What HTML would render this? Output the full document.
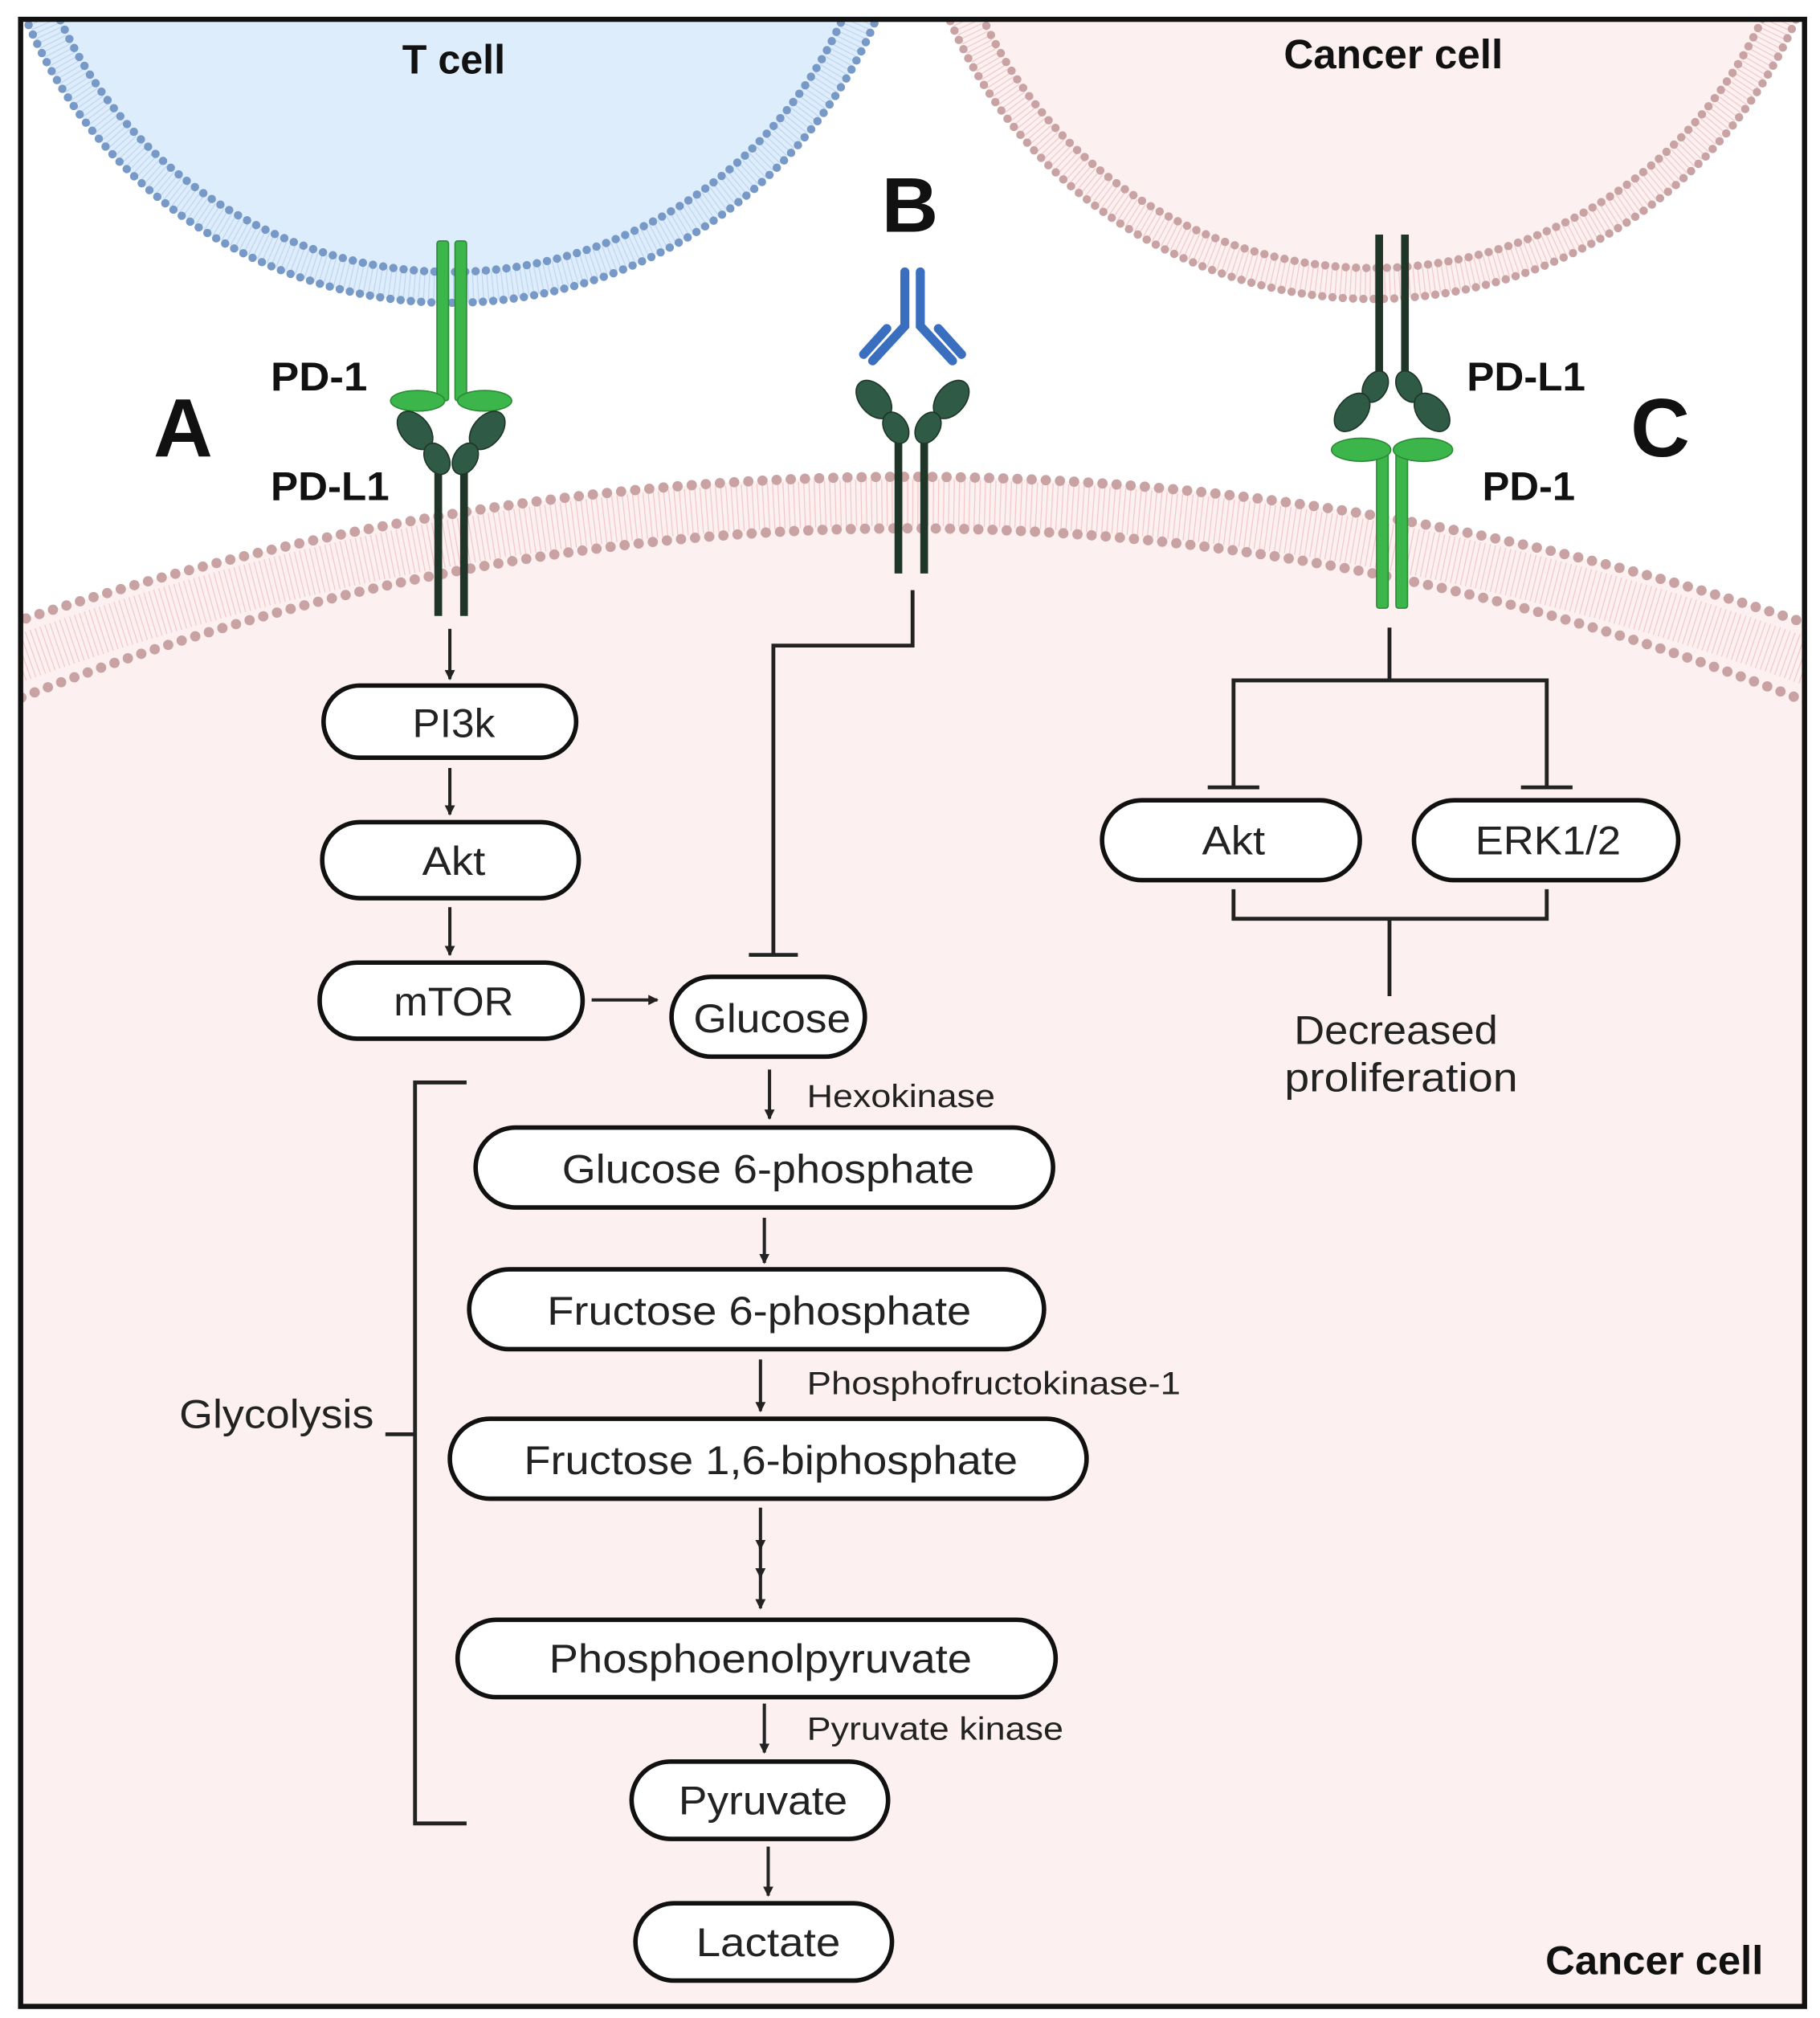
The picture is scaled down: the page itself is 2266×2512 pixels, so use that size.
<!DOCTYPE html>
<html><head><meta charset="utf-8">
<style>html,body{margin:0;padding:0;background:#fff;overflow:hidden;width:2266px;height:2512px}svg{display:block}
text{font-family:"Liberation Sans",sans-serif}</style></head>
<body>
<svg width="2266" height="2512" viewBox="0 0 1412 1566" preserveAspectRatio="none" xmlns="http://www.w3.org/2000/svg">
<defs>
<clipPath id="fr"><rect x="16" y="15" width="1384" height="1542"/></clipPath>
<marker id="ah" markerWidth="8" markerHeight="8" refX="7" refY="4" orient="auto" markerUnits="userSpaceOnUse" viewBox="0 0 8 8"><path d="M0,0 L8,4 L0,8 z" fill="#222"/></marker>
</defs>
<rect width="1412" height="1566" fill="#fff"/>
<g clip-path="url(#fr)">
<!-- big cancer cell -->
<circle cx="705" cy="2558" r="2188" fill="#fdf0f0"/>
<circle cx="705" cy="2419" r="2029" fill="none" stroke="#f3c9c9" stroke-width="36" stroke-dasharray="0.8 3.2"/>
<circle cx="705" cy="2558" r="2188" fill="none" stroke="#c9a3a3" stroke-width="8" stroke-linecap="round" stroke-dasharray="0 11"/>
<circle cx="705" cy="2280" r="1870" fill="none" stroke="#c9a3a3" stroke-width="8" stroke-linecap="round" stroke-dasharray="0 11"/>
<!-- T cell -->
<circle cx="350" cy="-122" r="357" fill="#deedfb"/>
<circle cx="350" cy="-122" r="345" fill="none" stroke="#c2d6f0" stroke-width="22" stroke-dasharray="0.8 3"/>
<circle cx="350" cy="-122" r="357" fill="none" stroke="#7799c8" stroke-width="6.5" stroke-linecap="round" stroke-dasharray="0 8"/>
<circle cx="350" cy="-122" r="333" fill="none" stroke="#7799c8" stroke-width="6.5" stroke-linecap="round" stroke-dasharray="0 8"/>
<!-- top cancer cell -->
<circle cx="1065" cy="-125" r="357" fill="#fdf0f0"/>
<circle cx="1065" cy="-125" r="345" fill="none" stroke="#f0cccc" stroke-width="22" stroke-dasharray="0.8 3"/>
<circle cx="1065" cy="-125" r="357" fill="none" stroke="#c9a3a3" stroke-width="6.5" stroke-linecap="round" stroke-dasharray="0 8"/>
<circle cx="1065" cy="-125" r="333" fill="none" stroke="#c9a3a3" stroke-width="6.5" stroke-linecap="round" stroke-dasharray="0 8"/>
</g>
<rect x="16" y="15" width="1384" height="1542" fill="none" stroke="#111" stroke-width="4"/>

<!-- A: PD-1 (green) -->
<g fill="#3cb64a" stroke="#2a8a35" stroke-width="1">
<rect x="339" y="187" width="9" height="124" rx="2"/>
<rect x="353" y="187" width="9" height="124" rx="2"/>
<ellipse cx="324" cy="311" rx="21" ry="8"/>
<ellipse cx="376" cy="311" rx="21" ry="8"/>
</g>
<!-- A: PD-L1 -->
<g stroke="#1e3527" stroke-width="6"><line x1="340" y1="365" x2="340" y2="478"/><line x1="360" y1="365" x2="360" y2="478"/></g>
<g fill="#2f5a45" stroke="#1e3527" stroke-width="1">
<ellipse cx="322" cy="334" rx="11" ry="17" transform="rotate(-40 322 334)"/>
<ellipse cx="339" cy="356" rx="9" ry="13" transform="rotate(-30 339 356)"/>
<ellipse cx="378" cy="334" rx="11" ry="17" transform="rotate(40 378 334)"/>
<ellipse cx="361" cy="356" rx="9" ry="13" transform="rotate(30 361 356)"/>
</g>

<!-- B antibody -->
<g stroke="#3a6fc0" stroke-width="7" stroke-linecap="round" fill="none">
<path d="M702,211 L702,253 L677,280"/>
<path d="M714,211 L714,253 L739,280"/>
<line x1="670" y1="275" x2="688" y2="255"/>
<line x1="746" y1="275" x2="728" y2="255"/>
</g>
<g stroke="#1e3527" stroke-width="6"><line x1="697" y1="342" x2="697" y2="445"/><line x1="717" y1="342" x2="717" y2="445"/></g>
<g fill="#2f5a45" stroke="#1e3527" stroke-width="1">
<ellipse cx="678" cy="310" rx="11" ry="17" transform="rotate(-40 678 310)"/>
<ellipse cx="695" cy="332" rx="9" ry="13" transform="rotate(-30 695 332)"/>
<ellipse cx="738" cy="310" rx="11" ry="17" transform="rotate(40 738 310)"/>
<ellipse cx="720" cy="332" rx="9" ry="13" transform="rotate(30 720 332)"/>
</g>

<!-- C -->
<g stroke="#1e3527" stroke-width="6"><line x1="1070" y1="182" x2="1070" y2="295"/><line x1="1090" y1="182" x2="1090" y2="295"/></g>
<g fill="#2f5a45" stroke="#1e3527" stroke-width="1">
<ellipse cx="1067" cy="300" rx="9" ry="13" transform="rotate(30 1067 300)"/>
<ellipse cx="1049" cy="320" rx="11" ry="17" transform="rotate(40 1049 320)"/>
<ellipse cx="1093" cy="300" rx="9" ry="13" transform="rotate(-30 1093 300)"/>
<ellipse cx="1111" cy="320" rx="11" ry="17" transform="rotate(-40 1111 320)"/>
</g>
<g fill="#3cb64a" stroke="#2a8a35" stroke-width="1">
<rect x="1068" y="345" width="9" height="127" rx="2"/>
<rect x="1083" y="345" width="9" height="127" rx="2"/>
<ellipse cx="1056" cy="349" rx="23" ry="9"/>
<ellipse cx="1104" cy="349" rx="23" ry="9"/>
</g>

<!-- bold labels -->
<g font-weight="bold" fill="#111">
<text x="312" y="57" font-size="32" textLength="80" lengthAdjust="spacingAndGlyphs">T cell</text>
<text x="996" y="53" font-size="32" textLength="170" lengthAdjust="spacingAndGlyphs">Cancer cell</text>
<text x="684" y="180" font-size="60" textLength="44" lengthAdjust="spacingAndGlyphs">B</text>
<text x="119" y="354" font-size="64" textLength="46" lengthAdjust="spacingAndGlyphs">A</text>
<text x="1265" y="354" font-size="64" textLength="46" lengthAdjust="spacingAndGlyphs">C</text>
<text x="210" y="303" font-size="31" textLength="75" lengthAdjust="spacingAndGlyphs">PD-1</text>
<text x="210" y="388" font-size="31" textLength="92" lengthAdjust="spacingAndGlyphs">PD-L1</text>
<text x="1138" y="303" font-size="31" textLength="92" lengthAdjust="spacingAndGlyphs">PD-L1</text>
<text x="1150" y="388" font-size="31" textLength="72" lengthAdjust="spacingAndGlyphs">PD-1</text>
<text x="1199" y="1532" font-size="31" textLength="169" lengthAdjust="spacingAndGlyphs">Cancer cell</text>
</g>

<!-- boxes -->
<g fill="#fff" stroke="#111" stroke-width="3.5">
<rect x="251" y="532" width="196" height="56" rx="28"/>
<rect x="250" y="638" width="199" height="59" rx="29"/>
<rect x="248" y="747" width="204" height="59" rx="29"/>
<rect x="521" y="758" width="150" height="62" rx="31"/>
<rect x="369" y="875" width="448" height="62" rx="31"/>
<rect x="364" y="985" width="446" height="62" rx="31"/>
<rect x="349" y="1101" width="494" height="62" rx="31"/>
<rect x="355" y="1257" width="464" height="60" rx="30"/>
<rect x="490" y="1367" width="199" height="60" rx="30"/>
<rect x="493" y="1477" width="199" height="60" rx="30"/>
<rect x="855" y="621" width="200" height="62" rx="31"/>
<rect x="1097" y="621" width="205" height="62" rx="31"/>
</g>
<g font-size="31" fill="#222" text-anchor="middle">
<text x="352" y="572" textLength="64" lengthAdjust="spacingAndGlyphs">PI3k</text>
<text x="352" y="679" textLength="49" lengthAdjust="spacingAndGlyphs">Akt</text>
<text x="352" y="788" textLength="93" lengthAdjust="spacingAndGlyphs">mTOR</text>
<text x="599" y="801" textLength="122" lengthAdjust="spacingAndGlyphs">Glucose</text>
<text x="596" y="918" textLength="320" lengthAdjust="spacingAndGlyphs">Glucose 6-phosphate</text>
<text x="589" y="1028" textLength="329" lengthAdjust="spacingAndGlyphs">Fructose 6-phosphate</text>
<text x="598" y="1144" textLength="383" lengthAdjust="spacingAndGlyphs">Fructose 1,6-biphosphate</text>
<text x="590" y="1298" textLength="328" lengthAdjust="spacingAndGlyphs">Phosphoenolpyruvate</text>
<text x="592" y="1408" textLength="131" lengthAdjust="spacingAndGlyphs">Pyruvate</text>
<text x="596" y="1518" textLength="112" lengthAdjust="spacingAndGlyphs">Lactate</text>
<text x="957" y="663" textLength="49" lengthAdjust="spacingAndGlyphs">Akt</text>
<text x="1201" y="663" textLength="113" lengthAdjust="spacingAndGlyphs">ERK1/2</text>
<text x="1083" y="810" textLength="158" lengthAdjust="spacingAndGlyphs">Decreased</text>
<text x="1087" y="847" textLength="181" lengthAdjust="spacingAndGlyphs">proliferation</text>
</g>
<g font-size="31" fill="#222">
<text x="139" y="1108" textLength="151" lengthAdjust="spacingAndGlyphs">Glycolysis</text>
</g>
<g font-size="25" fill="#222">
<text x="626" y="859" textLength="146" lengthAdjust="spacingAndGlyphs">Hexokinase</text>
<text x="626" y="1082" textLength="290" lengthAdjust="spacingAndGlyphs">Phosphofructokinase-1</text>
<text x="626" y="1350" textLength="199" lengthAdjust="spacingAndGlyphs">Pyruvate kinase</text>
</g>

<!-- arrows -->
<g stroke="#222" stroke-width="2.5" fill="none" marker-end="url(#ah)">
<line x1="349" y1="488" x2="349" y2="527"/>
<line x1="349" y1="596" x2="349" y2="632"/>
<line x1="349" y1="704" x2="349" y2="741"/>
<line x1="459" y1="776" x2="510" y2="776"/>
<line x1="597" y1="830" x2="597" y2="868"/>
<line x1="593" y1="945" x2="593" y2="980"/>
<line x1="590" y1="1055" x2="590" y2="1095"/>
<line x1="590" y1="1170" x2="590" y2="1202"/>
<line x1="590" y1="1200" x2="590" y2="1224"/>
<line x1="590" y1="1222" x2="590" y2="1248"/>
<line x1="593" y1="1322" x2="593" y2="1360"/>
<line x1="596" y1="1433" x2="596" y2="1471"/>
</g>
<!-- inhibitors & brackets -->
<g stroke="#222" stroke-width="3" fill="none">
<path d="M708,458 L708,501 L600,501 L600,740"/>
<line x1="581" y1="741" x2="619" y2="741"/>
<path d="M1078,487 L1078,528"/>
<path d="M957,610 L957,528 L1200,528 L1200,610"/>
<line x1="937" y1="611" x2="977" y2="611"/>
<line x1="1180" y1="611" x2="1220" y2="611"/>
<path d="M957,690 L957,713 L1200,713 L1200,690"/>
<line x1="1078" y1="713" x2="1078" y2="773"/>
<path d="M362,840 L322,840 L322,1415 L362,1415"/>
<line x1="299" y1="1113" x2="322" y2="1113"/>
</g>
</svg>
</body></html>
